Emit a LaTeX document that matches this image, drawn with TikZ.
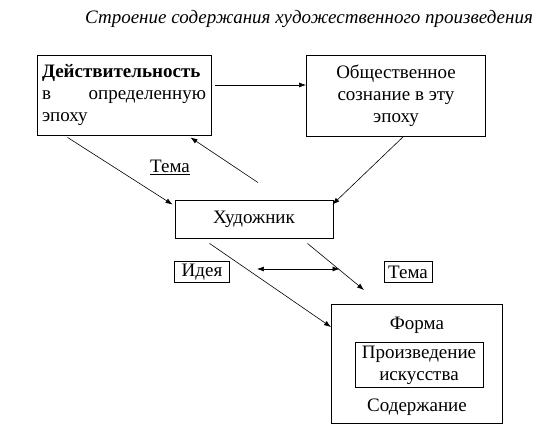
\documentclass[tikz,border=0pt]{standalone}
\usepackage{fontspec}
\setmainfont{Liberation Serif}
\usetikzlibrary{arrows.meta,calc,positioning}

\begin{document}
\begin{tikzpicture}[x=1pt,y=-1pt,
    box/.style={draw,line width=0.9pt,inner sep=4pt},
    arr/.style={-{Latex[length=7pt,width=5pt]},line width=0.6pt},
    font=\fontsize{19}{22}\selectfont]

    \useasboundingbox (0,0) rectangle (550,435);

    % Title
    \node[font=\fontsize{19}{22}\selectfont\itshape] (title) at (309,19) {Строение содержания художественного произведения};

    % Boxes
    \node[box,minimum width=174,minimum height=80,text width=164,align=left] (real) at (124,95)
        {\textbf{Действительность}\\ в\hfill определенную\\ эпоху};
    \node[box,minimum width=179,minimum height=81,align=center] (soc) at (396,96)
        {Общественное\\ сознание в эту\\ эпоху};
    \node[box,minimum width=158,minimum height=38] (artist) at (254,219) {Художник};
    \node (theme) at (170,167) {\underline{Тема}};
    \node[box,inner ysep=1pt,minimum width=55,minimum height=21] (idea) at (202,272) {Идея};
    \node[box,inner ysep=1pt,minimum width=48,minimum height=21] (theme2) at (408,272) {Тема};

    \node[box,minimum width=171,minimum height=119] (form) at (417,364) {};
    \node[box,minimum width=128,minimum height=45,align=center,inner sep=1pt] (work) at (419,365)
        {Произведение\\ искусства};
    \node (formlabel) at (417,325) {Форма};
    \node (content) at (417,407) {Содержание};

    % Connectors
    \coordinate (a1) at ($(real.east)+(4,-10)$);
    \draw[arr] (a1) -- (a1 -| soc.west);

    \coordinate (a2) at ($(real.south west)+(31,2)$);
    \draw[arr] (a2) -- ($(artist.north west)+(-2,5)$);

    \coordinate (a3) at ($(artist.north)+(4,-17)$);
    \draw[arr] (a3) -- ($(real.south east)+(-21,2)$);

    \coordinate (a4) at ($(soc.south)+(7,0)$);
    \draw[arr] (a4) -- ($(artist.north east)+(-1,5)$);

    \coordinate (a5) at ($(artist.south west)+(35,5)$);
    \draw[arr] (a5) -- ($(form.north west)+(0,23)$);

    \coordinate (a6) at ($(artist.south east)+(-26,5)$);
    \coordinate (a6end) at ($(form.north west)+(33,-14)$);
    \draw[arr] (a6) -- (a6end);

    \coordinate (b1) at ($(idea.east)+(27,-3)$);
    \coordinate (b2) at ($(theme2.west)+(-44,-3)$);
    \draw[arr,{Latex[length=7pt,width=5pt]}-{Latex[length=7pt,width=5pt]}] (b1) -- (b2);

\end{tikzpicture}
\end{document}
